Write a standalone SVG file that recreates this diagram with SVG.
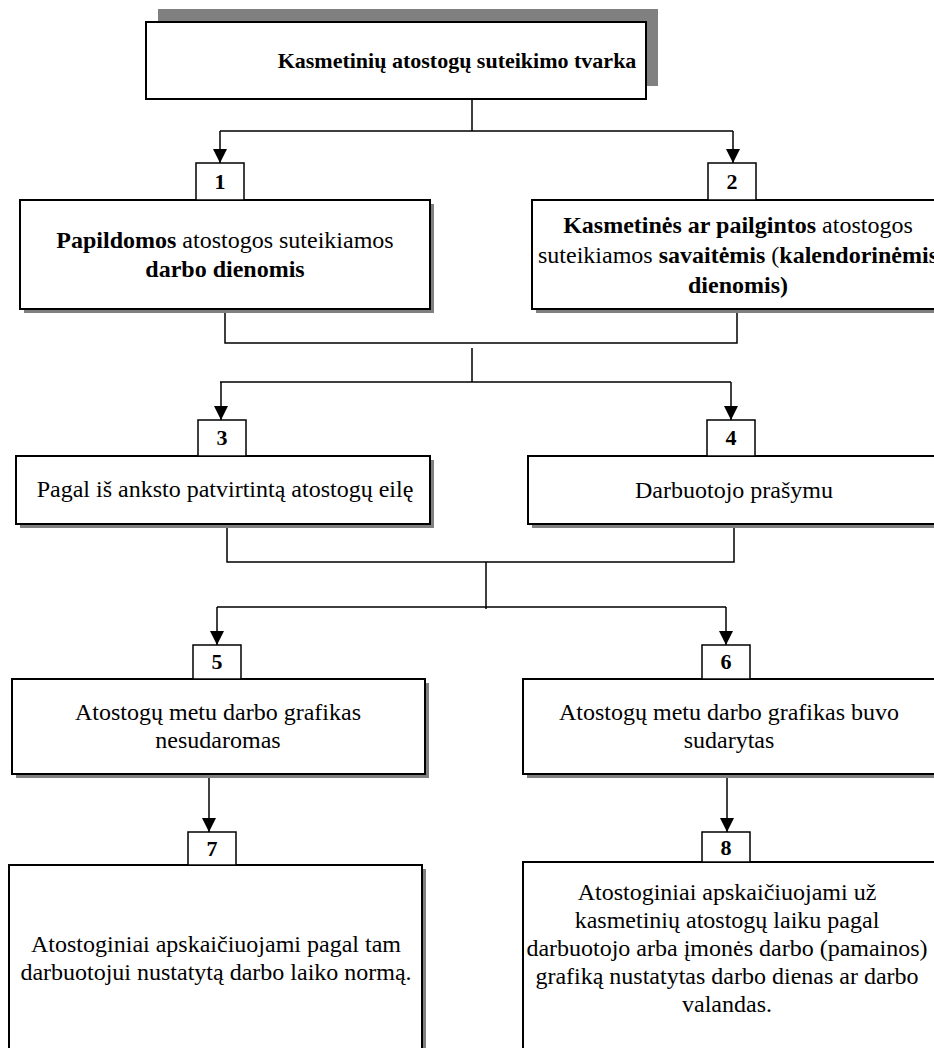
<svg xmlns="http://www.w3.org/2000/svg" width="934" height="1048" viewBox="0 0 934 1048">
<style>
.box{fill:#fff;stroke:#000;stroke-width:2}
.num{fill:#fff;stroke:#000;stroke-width:1.5}
.sh{fill:#808080}
.ln{fill:none;stroke:#000;stroke-width:1.5}
text{font-family:"Liberation Serif","Times New Roman",serif;font-size:24px;fill:#000;text-anchor:middle}
.b{font-weight:bold}
.n{font-weight:bold;font-size:22px}
</style>
<defs>
<marker id="ah" markerUnits="userSpaceOnUse" markerWidth="14" markerHeight="14" refX="14" refY="7" orient="auto">
<path d="M0,0 L14,7 L0,14 z" fill="#000"/>
</marker>
</defs>
<g id="connectors">
<path class="ln" d="M472,99 V131 M220,131 H733"/>
<path class="ln" d="M220,131 V163" marker-end="url(#ah)"/>
<path class="ln" d="M733,131 V163" marker-end="url(#ah)"/>
<path class="ln" d="M225,309 V343 H737 V309"/>
<path class="ln" d="M472,348 V382 M220,382 H731"/>
<path class="ln" d="M221,382 V420" marker-end="url(#ah)"/>
<path class="ln" d="M731,382 V420" marker-end="url(#ah)"/>
<path class="ln" d="M227,524 V562 H734 V524"/>
<path class="ln" d="M486,562 V609 M217,607 H726"/>
<path class="ln" d="M217,607 V645" marker-end="url(#ah)"/>
<path class="ln" d="M726,607 V645" marker-end="url(#ah)"/>
<path class="ln" d="M209,774 V832" marker-end="url(#ah)"/>
<path class="ln" d="M727,774 V832" marker-end="url(#ah)"/>
</g>
<g id="title">
<rect class="sh" x="158" y="9" width="500" height="77"/>
<rect class="box" x="146" y="22" width="500" height="77"/>
<text class="b" x="457" y="68" style="font-size:22px">Kasmetinių atostogų suteikimo tvarka</text>
</g>
<g id="node1">
<rect class="sh" x="24" y="204" width="410" height="109"/>
<rect class="box" x="20" y="200" width="410" height="109"/>
<rect class="num" x="196" y="163" width="48" height="37"/>
<text class="n" x="220" y="189">1</text>
<text x="225" y="248"><tspan class="b">Papildomos</tspan> atostogos suteikiamos</text>
<text class="b" x="225" y="277">darbo dienomis</text>
</g>
<g id="node2">
<rect class="sh" x="536" y="204" width="410" height="109"/>
<rect class="box" x="532" y="200" width="412" height="109"/>
<rect class="num" x="708" y="163" width="48" height="37"/>
<text class="n" x="732" y="189">2</text>
<text x="738" y="233"><tspan class="b">Kasmetinės ar pailgintos</tspan> atostogos</text>
<text x="738" y="263">suteikiamos <tspan class="b">savaitėmis</tspan> (<tspan class="b">kalendorinėmis</tspan></text>
<text class="b" x="738" y="293">dienomis)</text>
</g>
<g id="node3">
<rect class="sh" x="20" y="460" width="414" height="68"/>
<rect class="box" x="16" y="456" width="414" height="68"/>
<rect class="num" x="198" y="420" width="48" height="36"/>
<text class="n" x="222" y="445">3</text>
<text x="225" y="497">Pagal iš anksto patvirtintą atostogų eilę</text>
</g>
<g id="node4">
<rect class="sh" x="532" y="460" width="414" height="68"/>
<rect class="box" x="528" y="456" width="416" height="68"/>
<rect class="num" x="707" y="420" width="48" height="36"/>
<text class="n" x="731" y="445">4</text>
<text x="734" y="498">Darbuotojo prašymu</text>
</g>
<g id="node5">
<rect class="sh" x="16" y="683" width="413" height="95"/>
<rect class="box" x="12" y="679" width="413" height="95"/>
<rect class="num" x="193" y="645" width="48" height="34"/>
<text class="n" x="217" y="669">5</text>
<text x="218" y="720">Atostogų metu darbo grafikas</text>
<text x="218" y="748">nesudaromas</text>
</g>
<g id="node6">
<rect class="sh" x="527" y="683" width="413" height="95"/>
<rect class="box" x="523" y="679" width="417" height="95"/>
<rect class="num" x="702" y="645" width="48" height="34"/>
<text class="n" x="726" y="669">6</text>
<text x="729" y="720">Atostogų metu darbo grafikas buvo</text>
<text x="729" y="748">sudarytas</text>
</g>
<g id="node7">
<rect class="sh" x="13" y="869" width="413" height="200"/>
<rect class="box" x="9" y="865" width="413" height="200"/>
<rect class="num" x="188" y="832" width="48" height="33"/>
<text class="n" x="212" y="856">7</text>
<text x="216" y="952">Atostoginiai apskaičiuojami pagal tam</text>
<text x="216" y="980">darbuotojui nustatytą darbo laiko normą.</text>
</g>
<g id="node8">
<rect class="sh" x="527" y="866" width="413" height="200"/>
<rect class="box" x="523" y="862" width="417" height="200"/>
<rect class="num" x="702" y="832" width="48" height="30"/>
<text class="n" x="726" y="855">8</text>
<text x="727" y="900">Atostoginiai apskaičiuojami už</text>
<text x="727" y="928">kasmetinių atostogų laiku pagal</text>
<text x="727" y="956">darbuotojo arba įmonės darbo (pamainos)</text>
<text x="727" y="984">grafiką nustatytas darbo dienas ar darbo</text>
<text x="727" y="1012">valandas.</text>
</g>
</svg>
